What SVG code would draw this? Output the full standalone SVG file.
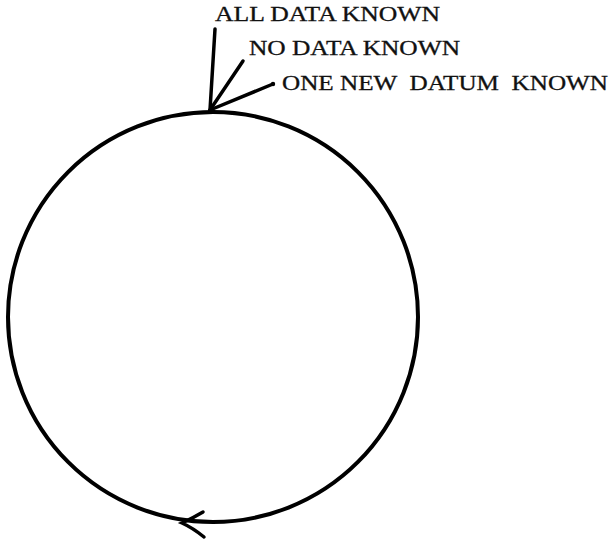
<svg xmlns="http://www.w3.org/2000/svg" width="616" height="543" viewBox="0 0 616 543">
<style>
.lbl{font-family:"Liberation Serif","Times New Roman",serif;font-size:20.5px;fill:#111;stroke:#111;stroke-width:0.3px}
.ln{fill:none;stroke:#000;stroke-width:3.5;stroke-linecap:round}
</style>
<rect width="616" height="543" fill="#fff"/>
<g id="cycle">
<circle cx="213" cy="317" r="205" fill="none" stroke="#000" stroke-width="4"/>
<path class="ln" d="M203,512 Q193,518 182,523 Q193,528 204,537" stroke-width="5.5"/>
</g>
<g id="connectors">
<path class="ln" d="M215,29 L210,110"/>
<path class="ln" d="M243,61 L210,110"/>
<path class="ln" d="M273,84 L210,110"/>
<circle cx="273" cy="84" r="2.2" fill="#000"/>
</g>
<g id="label-all">
<text class="lbl" x="215" y="21" textLength="225" lengthAdjust="spacingAndGlyphs">ALL DATA KNOWN</text>
</g>
<g id="label-no">
<text class="lbl" x="249" y="55" textLength="211" lengthAdjust="spacingAndGlyphs">NO DATA KNOWN</text>
</g>
<g id="label-one">
<text class="lbl" x="282" y="90" textLength="326" lengthAdjust="spacingAndGlyphs" xml:space="preserve">ONE NEW  DATUM  KNOWN</text>
</g>
</svg>
